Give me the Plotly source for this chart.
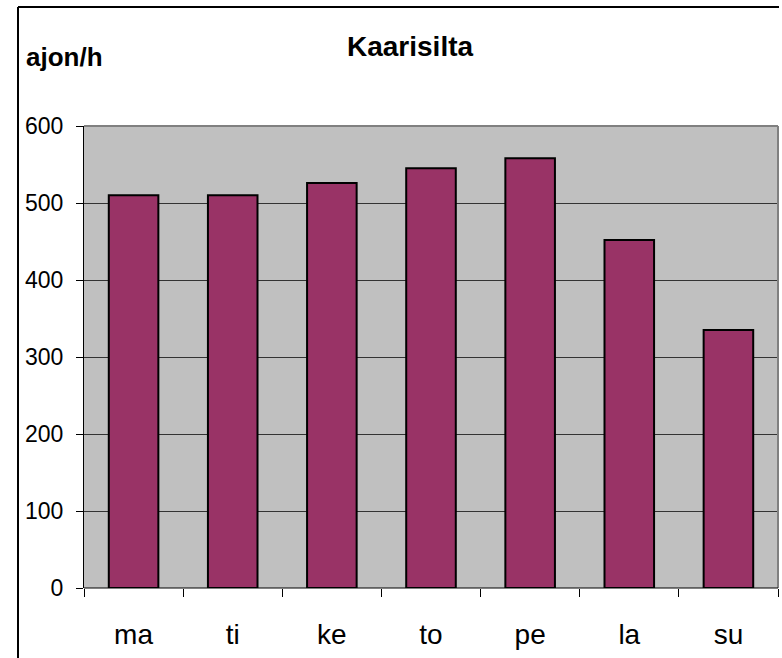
import plotly.graph_objects as go

days = ["ma", "ti", "ke", "to", "pe", "la", "su"]
traffic = [510, 510, 526, 545, 558, 452, 335]
y_ticks = [0, 100, 200, 300, 400, 500, 600]

W, H = 782, 658
L, R, T, B = 84, 4, 126, 70
pw, ph = W - L - R, H - T - B

def px2x(px):
    return (px - L) / pw

def px2y(py):
    return (H - B - py) / ph

fig = go.Figure()
fig.add_trace(go.Bar(
    x=days, y=traffic,
    marker=dict(color="#993366", line=dict(color="black", width=2)),
    width=0.5,
))

font = "Liberation Sans, Arial, sans-serif"
fig.update_layout(
    width=W, height=H,
    margin=dict(l=L, r=R, t=T, b=B),
    paper_bgcolor="white",
    plot_bgcolor="#C0C0C0",
    showlegend=False,
    font=dict(family=font, color="black"),
    xaxis=dict(
        type="category",
        automargin=False,
        tickson="boundaries",
        ticks="outside", ticklen=8, tickcolor="black", tickwidth=1,
        ticklabelstandoff=27,
        showgrid=False,
        showline=False,
        tickfont=dict(size=28, family=font, color="black"),
        range=[-0.5, 6.5],
    ),
    yaxis=dict(
        range=[0, 600],
        automargin=False,
        tickvals=y_ticks,
        ticks="outside", ticklen=7, tickcolor="black",
        ticklabelstandoff=8,
        showgrid=True, gridcolor="#333333", gridwidth=1,
        showline=True, linecolor="black", linewidth=1,
        zeroline=False,
        tickfont=dict(size=23, family=font, color="black"),
    ),
    shapes=[
        dict(type="line", xref="paper", yref="paper",
             x0=px2x(18), x1=px2x(18), y0=px2y(7), y1=px2y(660),
             line=dict(color="black", width=2)),
        dict(type="line", xref="paper", yref="paper",
             x0=px2x(18), x1=px2x(779), y0=px2y(7), y1=px2y(7),
             line=dict(color="black", width=2)),
        dict(type="line", xref="paper", yref="paper",
             x0=0, x1=1, y0=1, y1=1,
             line=dict(color="#808080", width=2)),
        dict(type="line", xref="paper", yref="paper",
             x0=1, x1=1, y0=0, y1=1,
             line=dict(color="#808080", width=2)),
        dict(type="line", xref="paper", yref="paper",
             x0=0, x1=1, y0=0, y1=0,
             line=dict(color="black", width=1)),
    ],
    annotations=[
        dict(text="<b>Kaarisilta</b>", xref="paper", yref="paper",
             x=px2x(410), y=px2y(46), xanchor="center", yanchor="middle",
             showarrow=False, font=dict(size=28, family=font, color="black")),
        dict(text="<b>ajon/h</b>", xref="paper", yref="paper",
             x=px2x(24), y=px2y(57), xanchor="left", yanchor="middle",
             showarrow=False, font=dict(size=26, family=font, color="black")),
    ],
)

fig.write_html("out.html",
               config={"displayModeBar": False},
               post_script="document.body.style.margin='0';document.body.style.overflow='hidden';")
